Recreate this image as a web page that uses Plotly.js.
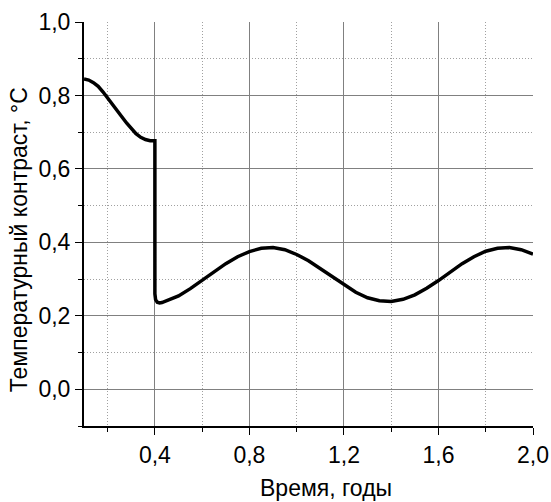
<!DOCTYPE html>
<html>
<head>
<meta charset="utf-8">
<script src="https://cdn.plot.ly/plotly-3.0.1.min.js"></script>
<style>html,body{margin:0;padding:0;background:#fff;}#chart{width:551px;height:502px;}</style>
</head>
<body>
<div id="chart"></div>
<script>
// Время, годы
var timeYears = [0.1, 0.12, 0.14, 0.16, 0.18, 0.2, 0.22, 0.24, 0.26, 0.28, 0.3, 0.32, 0.34, 0.36, 0.38, 0.4, 0.4, 0.403, 0.41, 0.42, 0.43, 0.45, 0.5, 0.55, 0.6, 0.65, 0.7, 0.75, 0.8, 0.85, 0.9, 0.95, 1.0, 1.05, 1.1, 1.15, 1.2, 1.25, 1.3, 1.35, 1.4, 1.45, 1.5, 1.55, 1.6, 1.65, 1.7, 1.75, 1.8, 1.85, 1.9, 1.95, 2.0];
// Температурный контраст, °C
var contrast = [0.845, 0.842, 0.835, 0.825, 0.81, 0.792, 0.776, 0.759, 0.742, 0.725, 0.709, 0.696, 0.686, 0.68, 0.677, 0.677, 0.26, 0.244, 0.237, 0.235, 0.236, 0.241, 0.254, 0.274, 0.296, 0.319, 0.342, 0.361, 0.375, 0.384, 0.386, 0.38, 0.367, 0.35, 0.328, 0.306, 0.284, 0.264, 0.249, 0.241, 0.239, 0.245, 0.257, 0.275, 0.296, 0.319, 0.342, 0.361, 0.376, 0.384, 0.386, 0.38, 0.368];

var xTitle = 'Время, годы';
var yTitle = 'Температурный контраст, °C';

var FONT = '"Liberation Sans", Arial, sans-serif';
var FS = 23;

var trace = {
  x: timeYears,
  y: contrast,
  type: 'scatter',
  mode: 'lines',
  line: {color: '#000', width: 3.5, shape: 'linear'},
  hoverinfo: 'skip'
};

var minorGrid = {ticks: 'outside', ticklen: 4, tickcolor: '#000', showgrid: true, gridcolor: '#a0a0a0', griddash: '1px,2px', gridwidth: 1};

var layout = {
  width: 551, height: 502,
  margin: {l: 84, r: 18, t: 22, b: 76, pad: 0},
  paper_bgcolor: '#fff', plot_bgcolor: '#fff',
  separators: ', ',
  showlegend: false,
  font: {family: FONT, size: FS, color: '#000'},
  xaxis: {
    range: [0.1, 2.0],
    tick0: 0, dtick: 0.4, tickformat: '.1f',
    showline: true, linecolor: '#000', linewidth: 2,
    ticks: 'outside', ticklen: 7, tickwidth: 1, tickcolor: '#000',
    showgrid: true, gridcolor: '#808080', gridwidth: 1,
    zeroline: false,
    minor: Object.assign({dtick: 0.2, tick0: 0}, minorGrid),
    tickfont: {family: FONT, size: FS, color: '#000'},
    fixedrange: true
  },
  yaxis: {
    range: [-0.1, 1.0],
    tick0: 0, dtick: 0.2, tickformat: '.1f',
    showline: true, linecolor: '#000', linewidth: 2,
    ticks: 'outside', ticklen: 7, tickwidth: 1, tickcolor: '#000',
    showgrid: true, gridcolor: '#808080', gridwidth: 1,
    zeroline: false,
    minor: Object.assign({dtick: 0.1, tick0: 0}, minorGrid),
    tickfont: {family: FONT, size: FS, color: '#000'},
    fixedrange: true
  },
  annotations: [
    {text: xTitle, xref: 'paper', yref: 'paper', x: 0.54, y: 0, yshift: -62, xanchor: 'center', yanchor: 'middle', showarrow: false, font: {family: FONT, size: FS, color: '#000'}},
    {text: yTitle, xref: 'paper', yref: 'paper', x: 0, xshift: -65, y: 0.46, xanchor: 'center', yanchor: 'middle', textangle: -90, showarrow: false, font: {family: FONT, size: FS, color: '#000'}}
  ]
};

Plotly.newPlot('chart', [trace], layout, {staticPlot: true, displayModeBar: false}).then(function (gd) {
  // the reference has no grid lines along the far (top/right) edges
  var xr = gd.layout.xaxis.range, yr = gd.layout.yaxis.range;
  gd.querySelectorAll('path.xgrid, path.xgrid-minor').forEach(function (p) {
    var d = p.__data__;
    if (d && Math.abs(d.x - xr[1]) < 1e-9) p.remove();
  });
  gd.querySelectorAll('path.ygrid, path.ygrid-minor').forEach(function (p) {
    var d = p.__data__;
    if (d && Math.abs(d.x - yr[1]) < 1e-9) p.remove();
  });
});
</script>
</body>
</html>
